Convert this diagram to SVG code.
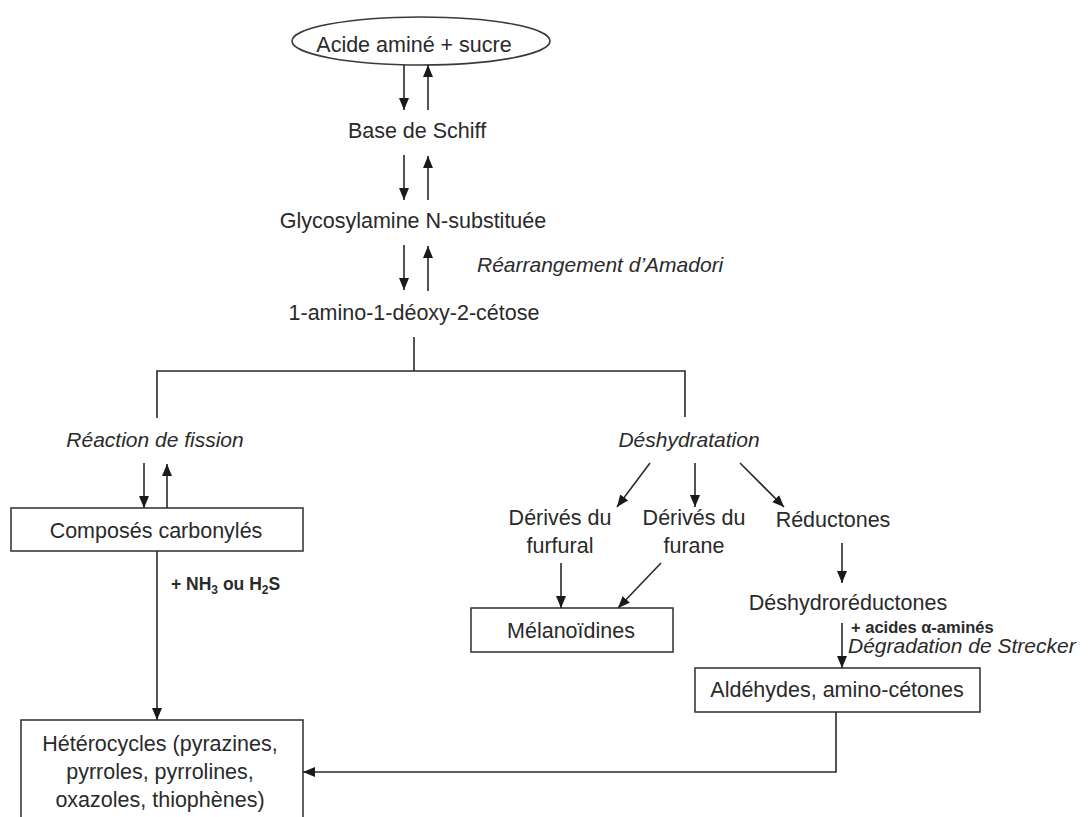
<svg xmlns="http://www.w3.org/2000/svg" width="1091" height="817" viewBox="0 0 1091 817">
<style>
.t{font-family:"Liberation Sans",Arial,sans-serif;font-size:21.5px;fill:#2a2a2a}
.i{font-style:italic;font-size:21px}
.b{font-weight:bold;font-size:16.5px}
.c{text-anchor:middle}
.box{fill:#fff;stroke:#3a3a3a;stroke-width:1.6}
.ln{fill:none;stroke:#2a2a2a;stroke-width:1.6}
.ar{fill:none;stroke:#2a2a2a;stroke-width:1.6;marker-end:url(#ah)}
</style>
<defs>
<marker id="ah" markerUnits="userSpaceOnUse" markerWidth="13" markerHeight="11" refX="12" refY="5" orient="auto">
<path d="M0,0 L12,5 L0,10 z" fill="#1a1a1a"/>
</marker>
</defs>
<rect width="1091" height="817" fill="#fff"/>
<g id="n-acide">
<ellipse class="box" cx="421" cy="41" rx="129" ry="24"/>
<text class="t c" x="414" y="52">Acide aminé + sucre</text>
</g>
<g id="n-schiff"><text class="t c" x="417" y="138">Base de Schiff</text></g>
<g id="n-glyco"><text class="t c" x="413" y="228">Glycosylamine N-substituée</text></g>
<g id="n-amadori-label"><text class="t i" x="477" y="272">Réarrangement d’Amadori</text></g>
<g id="n-cetose"><text class="t c" x="414" y="320">1-amino-1-déoxy-2-cétose</text></g>
<g id="n-fission"><text class="t i c" x="155" y="447">Réaction de fission</text></g>
<g id="n-deshydratation"><text class="t i c" x="689" y="447">Déshydratation</text></g>
<g id="n-composes">
<rect class="box" x="11" y="508" width="292" height="43"/>
<text class="t c" x="156" y="538">Composés carbonylés</text>
</g>
<g id="n-nh3"><text class="t b" x="171" y="590" style="font-size:17.5px">+ NH<tspan font-size="12" dy="4">3</tspan><tspan dy="-4"> ou H</tspan><tspan font-size="12" dy="4">2</tspan><tspan dy="-4">S</tspan></text></g>
<g id="n-furfural">
<text class="t c" x="560" y="525">Dérivés du</text>
<text class="t c" x="560" y="553">furfural</text>
</g>
<g id="n-furane">
<text class="t c" x="694" y="525">Dérivés du</text>
<text class="t c" x="694" y="553">furane</text>
</g>
<g id="n-reductones"><text class="t c" x="833" y="527">Réductones</text></g>
<g id="n-melanoidines">
<rect class="box" x="471" y="608" width="202" height="44"/>
<text class="t c" x="571" y="638">Mélanoïdines</text>
</g>
<g id="n-deshydroreductones"><text class="t c" x="848" y="610">Déshydroréductones</text></g>
<g id="n-strecker">
<text class="t b" x="851" y="633">+ acides α-aminés</text>
<text class="t i" x="848" y="653">Dégradation de Strecker</text>
</g>
<g id="n-aldehydes">
<rect class="box" x="695" y="668" width="285" height="44"/>
<text class="t c" x="837" y="697">Aldéhydes, amino-cétones</text>
</g>
<g id="n-heterocycles">
<rect class="box" x="21" y="720" width="282" height="110"/>
<text class="t c" x="160" y="751">Hétérocycles (pyrazines,</text>
<text class="t c" x="160" y="779">pyrroles, pyrrolines,</text>
<text class="t c" x="160" y="807">oxazoles, thiophènes)</text>
</g>
<g id="connectors">
<path class="ar" d="M404,65 V110"/>
<path class="ar" d="M428,110 V65"/>
<path class="ar" d="M404,155 V200"/>
<path class="ar" d="M428,200 V156"/>
<path class="ar" d="M404,245 V290"/>
<path class="ar" d="M428,291 V246"/>
<path class="ln" d="M414,337 V371"/>
<path class="ln" d="M157,418 V371 H685 V417"/>
<path class="ar" d="M144,463 V508"/>
<path class="ar" d="M167,508 V464"/>
<path class="ar" d="M157,551 V720"/>
<path class="ar" d="M650,463 L617,507"/>
<path class="ar" d="M695,463 V507"/>
<path class="ar" d="M740,463 L784,507"/>
<path class="ar" d="M561,563 V608"/>
<path class="ar" d="M661,563 L618,608"/>
<path class="ar" d="M842,543 V583"/>
<path class="ar" d="M842,623 V668"/>
<path class="ar" d="M836,712 V772 H303"/>
</g>
</svg>
